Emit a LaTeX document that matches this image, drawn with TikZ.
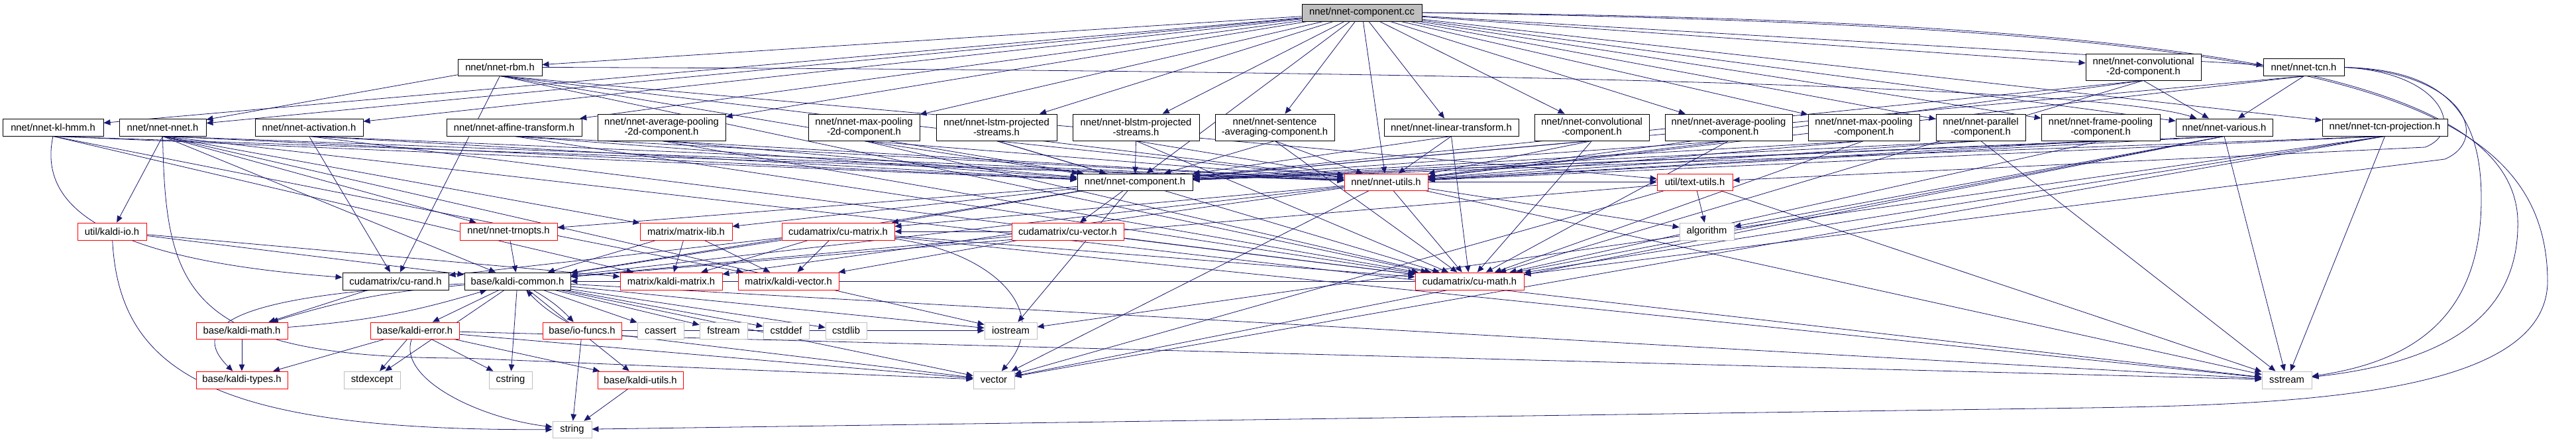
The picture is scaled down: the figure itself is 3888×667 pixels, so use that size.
\documentclass[tikz,border=0pt]{standalone}
\usepackage{fontspec}
\setmainfont{Liberation Sans}
\usetikzlibrary{arrows.meta}
\definecolor{edgeblue}{RGB}{25,25,112}
\definecolor{rootgray}{RGB}{191,191,191}
\definecolor{sysgray}{RGB}{191,191,191}
\definecolor{cutred}{RGB}{255,0,0}
\pgfdeclarelayer{edges}
\pgfsetlayers{edges,main}

\begin{document}
\begin{tikzpicture}[
  x=1pt, y=-1pt,
  hdrfile/.style={
    draw=black,
    fill=white,
    line width=0.9pt,
    inner sep=0pt,
    align=center,
    font=\fontsize{14.8}{15.4}\selectfont,
    minimum height=26pt
  },
  twoline/.style={hdrfile, minimum height=40pt},
  cutfile/.style={hdrfile, draw=cutred},
  sysfile/.style={hdrfile, draw=sysgray},
  rootfile/.style={hdrfile, fill=rootgray},
  incl/.style={-{Triangle[length=10pt,width=8.5pt]}, draw=edgeblue, line width=0.8pt}
]
\useasboundingbox (0,0) rectangle (3888,667);

% top
\node[rootfile, minimum width=181pt] (cc) at (2055.5,19) {nnet/nnet-component.cc};

% second rank
\node[hdrfile, minimum width=127pt, minimum height=25pt] (rbm) at (754.5,101.5) {nnet/nnet-rbm.h};
\node[twoline, minimum width=174pt] (convtwo) at (3235,101) {nnet/nnet-convolutional\\-2d-component.h};
\node[hdrfile, minimum width=122pt] (tcn) at (3477,101.5) {nnet/nnet-tcn.h};

% component headers
\node[hdrfile, minimum width=152pt] (klhmm) at (80,192) {nnet/nnet-kl-hmm.h};
\node[hdrfile, minimum width=131pt] (nnetnnet) at (245.5,192) {nnet/nnet-nnet.h};
\node[hdrfile, minimum width=163pt] (activ) at (466.5,192) {nnet/nnet-activation.h};
\node[hdrfile, minimum width=204pt] (affine) at (776,192) {nnet/nnet-affine-transform.h};
\node[twoline, minimum width=193pt] (avgtwo) at (998.5,192) {nnet/nnet-average-pooling\\-2d-component.h};
\node[twoline, minimum width=168pt] (maxtwo) at (1304,192) {nnet/nnet-max-pooling\\-2d-component.h};
\node[twoline, minimum width=182pt] (lstm) at (1504,192) {nnet/nnet-lstm-projected\\-streams.h};
\node[twoline, minimum width=191pt] (blstm) at (1714.5,192) {nnet/nnet-blstm-projected\\-streams.h};
\node[twoline, minimum width=180pt] (sent) at (1924,192) {nnet/nnet-sentence\\-averaging-component.h};
\node[hdrfile, minimum width=203pt] (linear) at (2190.5,192) {nnet/nnet-linear-transform.h};
\node[twoline, minimum width=173pt] (conv) at (2402.5,192) {nnet/nnet-convolutional\\-component.h};
\node[twoline, minimum width=192pt] (avgpool) at (2609,192) {nnet/nnet-average-pooling\\-component.h};
\node[twoline, minimum width=168pt] (maxpool) at (2813,192) {nnet/nnet-max-pooling\\-component.h};
\node[twoline, minimum width=135pt] (parallel) at (2989.5,192) {nnet/nnet-parallel\\-component.h};
\node[twoline, minimum width=179pt] (frame) at (3170.5,192) {nnet/nnet-frame-pooling\\-component.h};
\node[hdrfile, minimum width=146pt] (various) at (3357,192) {nnet/nnet-various.h};
\node[hdrfile, minimum width=189pt] (tcnproj) at (3599.5,192) {nnet/nnet-tcn-projection.h};

% nnet base
\node[hdrfile, minimum width=174pt, minimum height=25pt] (comp) at (1713,274.5) {nnet/nnet-component.h};
\node[cutfile, minimum width=126pt, minimum height=25pt] (utils) at (2092,274.5) {nnet/nnet-utils.h};
\node[cutfile, minimum width=114pt, minimum height=25pt] (textu) at (2558,274.5) {util/text-utils.h};

% matrix / util
\node[cutfile, minimum width=104pt] (kio) at (169,349) {util/kaldi-io.h};
\node[cutfile, minimum width=147pt] (trn) at (767.5,349) {nnet/nnet-trnopts.h};
\node[cutfile, minimum width=139pt] (mlib) at (1035.5,349) {matrix/matrix-lib.h};
\node[cutfile, minimum width=170pt] (cumat) at (1265,349) {cudamatrix/cu-matrix.h};
\node[cutfile, minimum width=169pt] (cuvec) at (1611.5,349) {cudamatrix/cu-vector.h};
\node[sysfile, minimum width=82pt] (algo) at (2576,349) {algorithm};

\node[hdrfile, minimum width=160pt] (curand) at (597,424) {cudamatrix/cu-rand.h};
\node[hdrfile, minimum width=160pt] (common) at (781,424) {base/kaldi-common.h};
\node[cutfile, minimum width=154pt] (kmat) at (1013,424) {matrix/kaldi-matrix.h};
\node[cutfile, minimum width=152pt] (kvec) at (1190,424) {matrix/kaldi-vector.h};
\node[cutfile, minimum width=164pt] (cumath) at (2218,424) {cudamatrix/cu-math.h};

% base
\node[cutfile, minimum width=138pt, minimum height=25pt] (kmath) at (365,498.5) {base/kaldi-math.h};
\node[cutfile, minimum width=134pt, minimum height=25pt] (kerr) at (626,498.5) {base/kaldi-error.h};
\node[cutfile, minimum width=119pt, minimum height=25pt] (iof) at (878.5,498.5) {base/io-funcs.h};
\node[sysfile, minimum width=70pt, minimum height=25pt] (cassert) at (997,498.5) {cassert};
\node[sysfile, minimum width=72pt, minimum height=25pt] (fstream) at (1092,498.5) {fstream};
\node[sysfile, minimum width=69pt, minimum height=25pt] (cstddef) at (1186.5,498.5) {cstddef};
\node[sysfile, minimum width=62pt, minimum height=25pt] (cstdlib) at (1277,498.5) {cstdlib};
\node[sysfile, minimum width=79pt, minimum height=25pt] (iostream) at (1525.5,498.5) {iostream};

\node[cutfile, minimum width=138pt] (ktypes) at (365,573) {base/kaldi-types.h};
\node[sysfile, minimum width=85pt] (stdexc) at (561.5,573) {stdexcept};
\node[sysfile, minimum width=65pt] (cstring) at (770.5,573) {cstring};
\node[cutfile, minimum width=129pt] (kutils) at (966.5,573) {base/kaldi-utils.h};
\node[sysfile, minimum width=62pt] (vector) at (1500,573) {vector};
\node[sysfile, minimum width=75pt] (sstream) at (3451.5,573) {sstream};

\node[sysfile, minimum width=59pt, minimum height=25pt] (string) at (863.5,647.5) {string};

\begin{pgfonlayer}{edges}
% from the .cc file
\draw[incl] (cc) -- (klhmm);
\draw[incl] (cc) -- (nnetnnet);
\draw[incl] (cc) -- (activ);
\draw[incl] (cc) -- (rbm);
\draw[incl] (cc) -- (affine);
\draw[incl] (cc) -- (avgtwo);
\draw[incl] (cc) -- (maxtwo);
\draw[incl] (cc) -- (lstm);
\draw[incl] (cc) -- (blstm);
\draw[incl] (cc) -- (sent);
\draw[incl] (cc) -- (linear);
\draw[incl] (cc) -- (conv);
\draw[incl] (cc) -- (avgpool);
\draw[incl] (cc) -- (maxpool);
\draw[incl] (cc) -- (parallel);
\draw[incl] (cc) -- (frame);
\draw[incl] (cc) -- (convtwo);
\draw[incl] (cc) -- (tcn);
\draw[incl] (cc) -- (various);
\draw[incl] (cc) -- (tcnproj);
\draw[incl] (cc) -- (comp);
\draw[incl] (cc) -- (utils);
\draw[incl] (cc.east) .. controls (3300,30) and (3790,110) .. (3800,330) .. controls (3805,500) and (3650,550) .. (sstream);
\draw[incl] (cc.east) .. controls (3450,40) and (3840,120) .. (3845,420) .. controls (3850,590) and (3500,610) .. (3150,615) -- (string);

% component headers
\draw[incl] (klhmm.south) .. controls (60,300) and (130,390) .. (curand);
\draw[incl] (klhmm.south) -- (comp);
\draw[incl] (klhmm.south) -- (utils);
\draw[incl] (klhmm.south) -- (kmat);
\draw[incl] (klhmm.south) -- (kvec);

\draw[incl] (nnetnnet.south) -- (kio);
\draw[incl] (nnetnnet.south) .. controls (250,440) and (280,540) .. (700,540) -- (vector);
\draw[incl] (nnetnnet.south) -- (comp);
\draw[incl] (nnetnnet.south) -- (utils);
\draw[incl] (nnetnnet.south) -- (trn);
\draw[incl] (nnetnnet.south) -- (common);
\draw[incl] (nnetnnet.south) -- (mlib);
\draw[incl] (nnetnnet.south) -- (iostream);
\draw[incl] (nnetnnet.south) -- (sstream);

\draw[incl] (activ.south) -- (curand);
\draw[incl] (activ.south) -- (comp);
\draw[incl] (activ.south) -- (utils);
\draw[incl] (activ.south) -- (cumath);

\draw[incl] (rbm) -- (nnetnnet);
\draw[incl] (rbm.east) .. controls (2000,105) and (3150,125) .. (various);
\draw[incl] (rbm.south) -- (comp);
\draw[incl] (rbm.south) -- (utils);
\draw[incl] (rbm.south) -- (cumath);
\draw[incl] (rbm.south) -- (curand);
\draw[incl] (rbm.south) -- (textu);

\draw[incl] (affine.south) -- (comp);
\draw[incl] (affine.south) -- (utils);
\draw[incl] (affine.south) -- (cumath);
\draw[incl] (avgtwo.south) -- (comp);
\draw[incl] (avgtwo.south) -- (utils);
\draw[incl] (avgtwo.south) -- (cumath);
\draw[incl] (maxtwo.south) -- (comp);
\draw[incl] (maxtwo.south) -- (utils);
\draw[incl] (maxtwo.south) -- (cumath);
\draw[incl] (lstm.south) -- (comp);
\draw[incl] (lstm.south) -- (utils);
\draw[incl] (lstm.south) -- (cumath);
\draw[incl] (blstm.south) -- (comp);
\draw[incl] (blstm.south) -- (utils);
\draw[incl] (blstm.south) -- (cumath);
\draw[incl] (sent.south) -- (comp);
\draw[incl] (sent.south) -- (utils);
\draw[incl] (sent.south) -- (cumath);
\draw[incl] (linear.south) -- (comp);
\draw[incl] (linear.south) -- (utils);
\draw[incl] (linear.south) -- (cumath);
\draw[incl] (conv.south) -- (comp);
\draw[incl] (conv.south) -- (utils);
\draw[incl] (conv.south) -- (cumath);
\draw[incl] (avgpool.south) -- (comp);
\draw[incl] (avgpool.south) -- (utils);
\draw[incl] (avgpool.south) -- (cumath);
\draw[incl] (maxpool.south) -- (comp);
\draw[incl] (maxpool.south) -- (utils);
\draw[incl] (maxpool.south) -- (cumath);
\draw[incl] (parallel.south) -- (comp);
\draw[incl] (parallel.south) -- (utils);
\draw[incl] (parallel.south) -- (sstream);
\draw[incl] (frame.south) -- (comp);
\draw[incl] (frame.south) -- (utils);
\draw[incl] (frame.south) -- (cumath);

\draw[incl] (convtwo.south) -- (various);
\draw[incl] (convtwo.south) -- (comp);
\draw[incl] (convtwo.south) -- (utils);
\draw[incl] (convtwo.south) -- (cumath);

\draw[incl] (various.south) -- (comp);
\draw[incl] (various.south) -- (utils);
\draw[incl] (various.south) -- (cumath);
\draw[incl] (various.south) -- (sstream);
\draw[incl] (various.south) -- (vector);
\draw[incl] (various.south) -- (algo);

\draw[incl] (tcn.south) -- (various);
\draw[incl] (tcn.south) -- (comp);
\draw[incl] (tcn.south) -- (utils);
\draw[incl] (tcn.east) .. controls (3700,105) and (3745,180) .. (3745,300) .. controls (3745,480) and (3640,545) .. (sstream);
\draw[incl] (tcn.east) .. controls (3690,110) and (3720,200) .. (3660,222) -- (textu);
\draw[incl] (tcn.east) .. controls (3720,110) and (3760,210) .. (3690,240) -- (cumath);

\draw[incl] (tcnproj.south) -- (comp);
\draw[incl] (tcnproj.south) -- (utils);
\draw[incl] (tcnproj.south) -- (cumath);
\draw[incl] (tcnproj.south) -- (sstream);
\draw[incl] (tcnproj.south) -- (vector);
\draw[incl] (tcnproj.south) -- (iostream);

% nnet base
\draw[incl] (comp) -- (trn);
\draw[incl] (comp) -- (mlib);
\draw[incl] (comp) -- (cumat);
\draw[incl] (comp) -- (cuvec);
\draw[incl] (comp) -- (common);
\draw[incl] (comp) -- (iostream);

\draw[incl] (utils) -- (textu);
\draw[incl] (utils) -- (algo);
\draw[incl] (utils) -- (common);
\draw[incl] (utils) -- (kmat);
\draw[incl] (utils) -- (cumat);
\draw[incl] (utils) -- (cumath);
\draw[incl] (utils) -- (vector);
\draw[incl] (utils) -- (sstream);

\draw[incl] (textu) -- (algo);
\draw[incl] (textu) -- (common);
\draw[incl] (textu) -- (vector);
\draw[incl] (textu) -- (sstream);

% matrix / util
\draw[incl] (kio) -- (common);
\draw[incl] (kio) -- (kmat);
\draw[incl] (kio) .. controls (180,560) and (320,650) .. (string);
\draw[incl] (trn) -- (common);
\draw[incl] (mlib) -- (kmat);
\draw[incl] (mlib) -- (kvec);
\draw[incl] (mlib) -- (common);
\draw[incl] (cumat) -- (common);
\draw[incl] (cumat) -- (kmat);
\draw[incl] (cumat) -- (kvec);
\draw[incl] (cumat) -- (curand);
\draw[incl] (cumat) -- (cumath);
\draw[incl] (cumat) .. controls (1500,380) and (1590,470) .. (vector);
\draw[incl] (cumat) -- (sstream);
\draw[incl] (cuvec) -- (common);
\draw[incl] (cuvec) -- (kvec);
\draw[incl] (cuvec) -- (cumath);
\draw[incl] (cuvec) -- (cumat);

\draw[incl] (curand) -- (kmath);
\draw[incl] (cumath) -- (common);

% base
\draw[incl] (common) -- (cassert);
\draw[incl] (common) -- (fstream);
\draw[incl] (common) -- (cstddef);
\draw[incl] (common) -- (cstdlib);
\draw[incl] (common) -- (iostream);
\draw[incl] (common) -- (vector);
\draw[incl] (common) -- (sstream);
\draw[incl] (common) -- (cstring);
\draw[incl] (common) -- (stdexc);
\draw[incl] (common) -- (kerr);
\draw[incl] (common) to[bend right=6] (kmath);
\draw[incl] (common) .. controls (450,440) and (260,470) .. (ktypes);
\draw[incl] (common) to[bend left=8] (iof);
\draw[incl] (common) -- (kutils);

\draw[incl] (kmath) -- (ktypes);
\draw[incl] (kmath) to[bend right=6] (common);
\draw[incl] (kerr) -- (ktypes);
\draw[incl] (kerr) -- (stdexc);
\draw[incl] (kerr) .. controls (600,570) and (720,630) .. (string);
\draw[incl] (kerr) -- (cstring);
\draw[incl] (kerr) -- (kutils);
\draw[incl] (kerr) -- (sstream);
\draw[incl] (kerr) -- (vector);
\draw[incl] (iof) to[bend left=8] (common);
\draw[incl] (iof) -- (string);
\draw[incl] (iof) -- (iostream);
\draw[incl] (iof) -- (vector);
\draw[incl] (kutils) -- (string);
\end{pgfonlayer}
\end{tikzpicture}
\end{document}
